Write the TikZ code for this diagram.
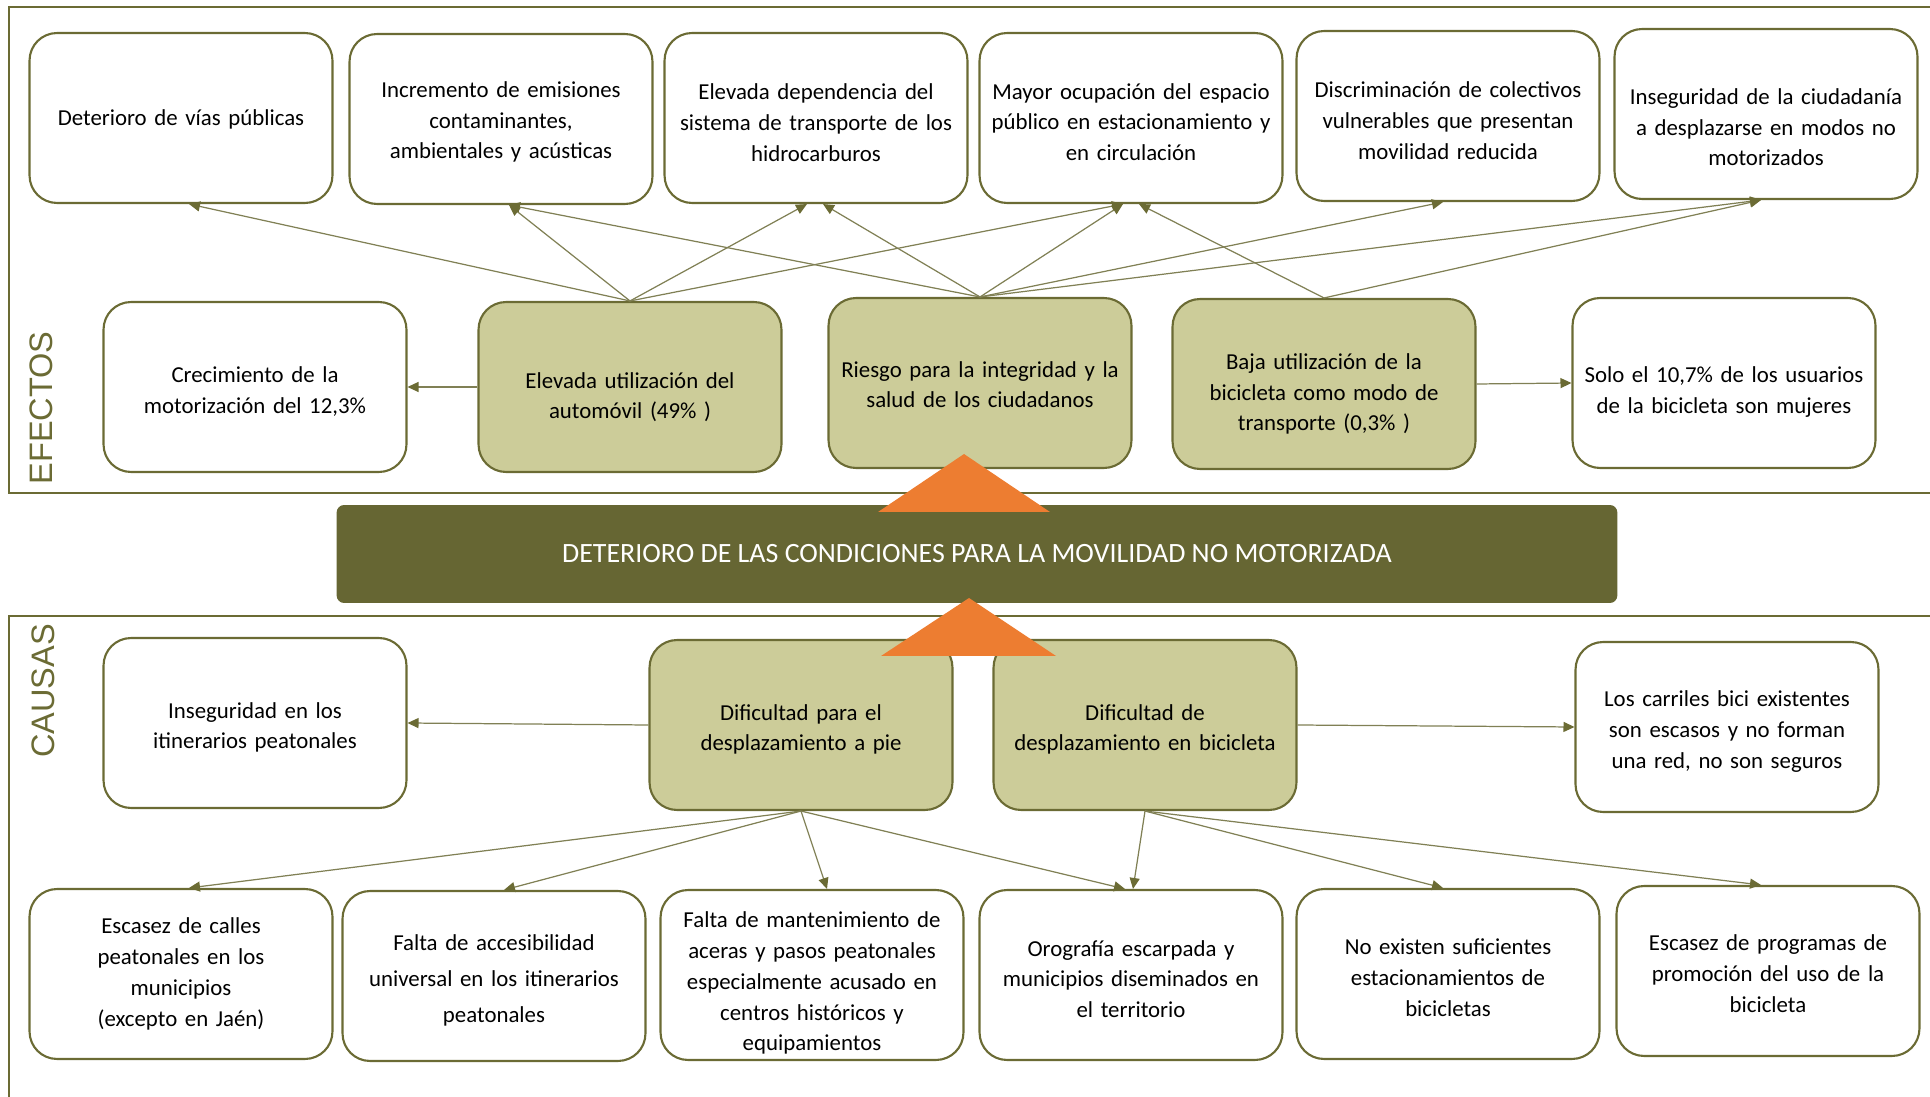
\documentclass[tikz,border=0pt]{standalone}
\usepackage{fontspec}
\setmainfont{Carlito}
\setsansfont{Liberation Sans}
\usetikzlibrary{arrows.meta}
\definecolor{olivebd}{HTML}{6B6B34}
\definecolor{olivefill}{HTML}{CCCC99}
\definecolor{olivebar}{HTML}{666633}
\definecolor{olivearr}{HTML}{808055}
\definecolor{orangetri}{HTML}{ED7D31}
\tikzset{
  drop/.style={execute at end node={\par\kern-#1}},
  box/.style={draw=olivebd, line width=1.2pt, fill=white, rounded corners=0.55cm,
    minimum width=6.06cm, minimum height=3.4cm, text width=5.8cm, align=center,
    inner sep=0pt, font=\fontsize{13}{17.5}\selectfont, drop=5pt},
  keybox/.style={box, fill=olivefill},
  corebar/.style={fill=olivebar, rounded corners=0.15cm, minimum width=25.62cm,
    minimum height=1.96cm, text=white, font=\fontsize{15.9}{18}\selectfont},
  link/.style={draw=olivearr, line width=0.7pt,
    -{Triangle[length=0.22cm, width=0.2cm, color=olivebd]}},
  frame/.style={draw=olivebd, line width=1.1pt},
  sidelabel/.style={rotate=90, text=olivebd, inner sep=0pt,
    font=\sffamily\fontsize{18.5}{20}\selectfont}
}

\begin{document}
\begin{tikzpicture}[x=0.02cm,y=-0.02cm]
\useasboundingbox (0,0) rectangle (1930,1097);
% frames
\draw[frame] (1950,7) -- (9,7) -- (9,493) -- (1950,493);
\draw[frame] (1950,616) -- (9,616) -- (9,1110);
\node[sidelabel] (efectos) at (41,408) {EFECTOS};
\node[sidelabel] (causas) at (43,691) {CAUSAS};
% effects
\node[box, drop=-2.5pt] (d1) at (181,118) {Deterioro de vías públicas};
\node[box, drop=-1.5pt] (d2) at (501,119) {Incremento de emisiones\\contaminantes,\\ambientales y acústicas};
\node[box, drop=0.5pt] (d3) at (816,118) {Elevada dependencia del\\sistema de transporte de los\\hidrocarburos};
\node[box, drop=-0.5pt] (d4) at (1131,118) {Mayor ocupación del espacio\\público en estacionamiento y\\en circulación};
\node[box, drop=0.5pt] (d5) at (1448,116) {Discriminación de colectivos\\vulnerables que presentan\\movilidad reducida};
\node[box, drop=10pt] (d6) at (1766,114) {Inseguridad de la ciudadanía\\a desplazarse en modos no\\motorizados};
\node[box, drop=0.5pt] (cr) at (255,387) {Crecimiento de la\\motorización del 12,3\%};
\node[keybox, drop=6.5pt] (eu) at (630,387) {Elevada utilización del\\automóvil (49\% )};
\node[keybox, drop=-3pt] (ri) at (980,383) {Riesgo para la integridad y la\\salud de los ciudadanos};
\node[keybox, drop=6.5pt] (ba) at (1324,384) {Baja utilización de la\\bicicleta como modo de\\transporte (0,3\% )};
\node[box, drop=5pt] (so) at (1724,383) {Solo el 10,7\% de los usuarios\\de la bicicleta son mujeres};
\draw[link] (eu.west) -- (cr.east);
\draw[link] (ba.east) -- (so.west);
\draw[link] (eu.north) -- ([xshift=0.16cm]d1.south);
\draw[link] (eu.north) -- ([xshift=0.16cm]d2.south);
\draw[link] (eu.north) -- ([xshift=-0.18cm]d3.south);
\draw[link] (eu.north) -- ([xshift=-0.16cm]d4.south);
\draw[link] (ri.north) -- ([xshift=0.16cm]d2.south);
\draw[link] (ri.north) -- ([xshift=0.14cm]d3.south);
\draw[link] (ri.north) -- ([xshift=-0.16cm]d4.south);
\draw[link] (ri.north) -- ([xshift=-0.1cm]d5.south);
\draw[link] (ri.north) -- ([xshift=-0.1cm]d6.south);
\draw[link] (ba.north) -- ([xshift=0.16cm]d4.south);
\draw[link] (ba.north) -- ([xshift=-0.1cm]d6.south);
% causes
\node[box] (ii) at (255,723) {Inseguridad en los\\itinerarios peatonales};
\node[keybox] (dp) at (801,725) {Dificultad para el\\desplazamiento a pie};
\node[keybox] (db) at (1145,725) {Dificultad de\\desplazamiento en bicicleta};
\node[box] (cb) at (1727,727) {Los carriles bici existentes\\son escasos y no forman\\una red, no son seguros};
\node[box, drop=-5pt] (c1) at (181,974) {Escasez de calles\\peatonales en los\\municipios\\(excepto en Jaén)};
\node[box] (c2) at (494,976) {Falta de accesibilidad\\[3pt]universal en los itinerarios\\[3pt]peatonales};
\node[box, drop=4.5pt] (c3) at (812,975) {Falta de mantenimiento de\\aceras y pasos peatonales\\especialmente acusado en\\centros históricos y\\equipamientos};
\node[box, drop=-0.5pt] (c4) at (1131,975) {Orografía escarpada y\\municipios diseminados en\\el territorio};
\node[box, drop=-1pt] (c5) at (1448,974) {No existen suficientes\\estacionamientos de\\bicicletas};
\node[box, drop=-2pt] (c6) at (1768,971) {Escasez de programas de\\promoción del uso de la\\bicicleta};
\draw[link] (dp.west) -- (ii.east);
\draw[link] (db.east) -- (cb.west);
\draw[link] (dp.south) -- ([xshift=0.16cm]c1.north);
\draw[link] (dp.south) -- ([xshift=0.2cm]c2.north);
\draw[link] (dp.south) -- ([xshift=0.3cm]c3.north);
\draw[link] (dp.south) -- ([xshift=-0.12cm]c4.north);
\draw[link] (db.south) -- ([xshift=0.04cm]c4.north);
\draw[link] (db.south) -- ([xshift=-0.1cm]c5.north);
\draw[link] (db.south) -- ([xshift=-0.14cm]c6.north);
% central problem
\node[corebar] (core) at (977,554) {DETERIORO DE LAS CONDICIONES PARA LA MOVILIDAD NO MOTORIZADA};
\fill[orangetri] (878,512) -- (964,454) -- (1050,512) -- cycle;
\fill[orangetri] (881,656) -- (969,598) -- (1056,656) -- cycle;
\end{tikzpicture}
\end{document}
